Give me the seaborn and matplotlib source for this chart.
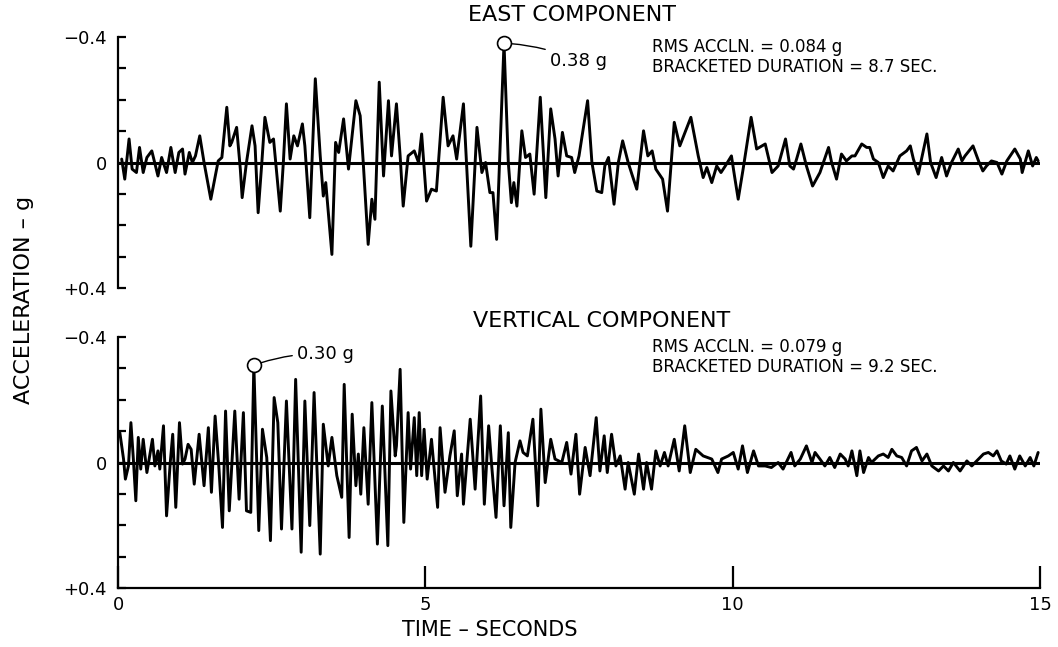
import numpy as np
import pandas as pd
import matplotlib
matplotlib.use("Agg")
import matplotlib.pyplot as plt
import seaborn as sns
from matplotlib.ticker import FixedLocator

# ---------------- data (time in s, acceleration in g; negative plotted upward) ----------------
east_t = [0.06, 0.11, 0.18, 0.23, 0.30, 0.35, 0.41, 0.47, 0.55, 0.65, 0.71, 0.79, 0.86, 0.93, 0.99,
          1.05, 1.09, 1.16, 1.21, 1.26, 1.33, 1.40, 1.51, 1.63, 1.69, 1.77, 1.82, 1.85, 1.93, 1.99,
          2.02, 2.09, 2.18, 2.23, 2.28, 2.34, 2.39, 2.47, 2.53, 2.64, 2.69, 2.74, 2.80, 2.86, 2.92,
          3.00, 3.04, 3.12, 3.21, 3.29, 3.34, 3.38, 3.48, 3.54, 3.59, 3.67,
          3.75, 3.87, 3.94, 3.99, 4.07, 4.13, 4.18, 4.25, 4.32, 4.40, 4.45, 4.53, 4.59, 4.64, 4.72,
          4.82, 4.89, 4.94, 5.02, 5.10, 5.18, 5.29, 5.37, 5.45, 5.51, 5.62, 5.67, 5.74, 5.84, 5.92,
          5.98, 6.05, 6.10, 6.16, 6.28, 6.35, 6.40, 6.44, 6.49, 6.57, 6.63, 6.70, 6.77, 6.87, 6.96,
          7.04, 7.11, 7.16, 7.23, 7.30, 7.38, 7.43, 7.50,
          7.64, 7.71, 7.79, 7.87, 7.92, 7.98, 8.07, 8.14, 8.21, 8.30, 8.36, 8.44, 8.55, 8.62, 8.69,
          8.75, 8.86, 8.94, 9.05, 9.14, 9.32, 9.44, 9.52, 9.58, 9.66, 9.74, 9.81, 9.88, 9.98, 10.03,
          10.09, 10.17, 10.30, 10.39, 10.53, 10.64, 10.74, 10.86, 10.93, 10.99, 11.04, 11.11, 11.20, 11.30,
          11.42, 11.56, 11.61, 11.69, 11.77, 11.85, 11.94, 11.99, 12.10, 12.18, 12.23, 12.29, 12.37, 12.45,
          12.53, 12.61, 12.72, 12.83, 12.89, 12.94, 13.02, 13.16, 13.22, 13.31, 13.40, 13.48, 13.56, 13.67,
          13.73, 13.78, 13.91, 14.00, 14.07, 14.13, 14.21, 14.30, 14.38, 14.46, 14.59, 14.68, 14.71, 14.81,
          14.88, 14.94, 14.97]
east_a = [-0.011, 0.053, -0.075, 0.021, 0.032, -0.048, 0.032, -0.016, -0.037, 0.043, -0.016, 0.032, -0.048, 0.032, -0.032,
          -0.043, 0.037, -0.032, 0.0, -0.021, -0.085, 0.0, 0.117, -0.005, -0.016, -0.176, -0.053, -0.064, -0.112, 0.021,
          0.112, 0.0, -0.117, -0.053, 0.160, 0.0, -0.144, -0.064, -0.075, 0.155, 0.0, -0.187, -0.011, -0.085, -0.053,
          -0.123, -0.053, 0.176, -0.267, -0.021, 0.107, 0.064, 0.293, -0.064, -0.032, -0.139,
          0.021, -0.197, -0.149, 0.0, 0.261, 0.117, 0.181, -0.256, 0.043, -0.197, -0.021, -0.187, -0.021, 0.139, -0.021,
          -0.037, 0.0, -0.091, 0.123, 0.085, 0.091, -0.208, -0.053, -0.085, -0.011, -0.187, 0.0, 0.267, -0.112, 0.032,
          0.0, 0.096, 0.096, 0.245, -0.380, 0.0, 0.128, 0.064, 0.139, -0.101, -0.016, -0.027, 0.101, -0.208, 0.112,
          -0.171, -0.075, 0.043, -0.096, -0.021, -0.016, 0.032, -0.021,
          -0.197, 0.0, 0.091, 0.096, 0.011, -0.016, 0.133, 0.0, -0.069, 0.0, 0.037, 0.085, -0.101, -0.021, -0.037,
          0.021, 0.053, 0.155, -0.128, -0.053, -0.144, -0.021, 0.048, 0.016, 0.064, 0.011, 0.032, 0.011, -0.021, 0.043,
          0.117, 0.021, -0.144, -0.043, -0.059, 0.032, 0.011, -0.075, 0.011, 0.021, -0.011, -0.059, 0.011, 0.075,
          0.032, -0.048, 0.0, 0.053, -0.027, -0.005, -0.021, -0.021, -0.059, -0.048, -0.048, -0.011, 0.0, 0.048,
          0.011, 0.027, -0.021, -0.037, -0.053, -0.011, 0.037, -0.091, 0.0, 0.048, -0.016, 0.043, 0.0, -0.043,
          -0.005, -0.021, -0.053, -0.005, 0.027, 0.011, -0.005, 0.0, 0.037, -0.005, -0.043, -0.011, 0.032, -0.037,
          0.011, -0.016, -0.005]

vert_t = [0.03, 0.09, 0.12, 0.17, 0.21, 0.25, 0.29, 0.33, 0.37, 0.41, 0.47, 0.56, 0.60, 0.65, 0.68,
          0.74, 0.79, 0.85, 0.89, 0.94, 1.00, 1.05, 1.09, 1.14, 1.19, 1.24, 1.32, 1.40, 1.47, 1.52,
          1.58, 1.64, 1.70, 1.75, 1.81, 1.90, 1.97, 2.04, 2.09, 2.16, 2.21, 2.29, 2.35, 2.42, 2.48,
          2.54, 2.60, 2.66, 2.74, 2.83, 2.89, 2.98, 3.04, 3.12, 3.19, 3.29, 3.34, 3.42, 3.48, 3.56,
          3.64, 3.68,
          3.76, 3.81, 3.87, 3.91, 3.95, 4.00, 4.07, 4.13, 4.22, 4.30, 4.39, 4.44, 4.51, 4.53, 4.59,
          4.65, 4.72, 4.76, 4.82, 4.86, 4.90, 4.94, 4.98, 5.03, 5.10, 5.20, 5.24, 5.32, 5.40, 5.47,
          5.52, 5.59, 5.62, 5.73, 5.81, 5.90, 5.96, 6.03, 6.08, 6.15, 6.22, 6.28, 6.35, 6.39, 6.46,
          6.54, 6.59, 6.66, 6.75, 6.83, 6.88, 6.95, 7.04, 7.11, 7.22, 7.30, 7.37, 7.45, 7.51,
          7.60, 7.68, 7.78, 7.84, 7.91, 7.96, 8.03, 8.10, 8.17, 8.25, 8.30, 8.40, 8.47, 8.55, 8.60,
          8.68, 8.75, 8.82, 8.89, 8.95, 9.05, 9.13, 9.22, 9.31, 9.40, 9.52, 9.66, 9.76, 9.82, 9.93,
          10.01, 10.09, 10.16, 10.24, 10.34, 10.42, 10.53, 10.63, 10.74, 10.82, 10.95, 11.01, 11.10, 11.20, 11.29,
          11.34, 11.42, 11.50, 11.58, 11.66, 11.75, 11.83, 11.88, 11.94, 12.02, 12.07, 12.13, 12.21, 12.26, 12.37,
          12.45, 12.53, 12.59, 12.67, 12.75, 12.83, 12.91, 12.99, 13.08, 13.16, 13.24, 13.35, 13.43, 13.51, 13.59,
          13.70, 13.81, 13.89, 14.00, 14.08, 14.16, 14.24, 14.30, 14.37, 14.45, 14.51, 14.59, 14.67, 14.76, 14.84,
          14.90, 14.97]
vert_a = [-0.095, -0.011, 0.053, 0.011, -0.127, -0.011, 0.122, -0.080, 0.021, -0.074, 0.032, -0.074, 0.011, -0.037, 0.021,
          -0.117, 0.170, 0.0, -0.090, 0.143, -0.127, 0.005, -0.011, -0.058, -0.042, 0.069, -0.090, 0.074, -0.111, 0.095,
          -0.148, 0.011, 0.207, -0.164, 0.154, -0.164, 0.117, -0.159, 0.154, 0.159, -0.310, 0.217, -0.106, -0.016, 0.249,
          -0.207, -0.127, 0.212, -0.196, 0.212, -0.265, 0.286, -0.196, 0.201, -0.223, 0.292, -0.122, 0.011, -0.080, 0.042,
          0.111, -0.249,
          0.239, -0.154, 0.074, -0.027, 0.101, -0.111, 0.133, -0.191, 0.260, -0.180, 0.265, -0.228, -0.021, -0.053, -0.297,
          0.191, -0.159, 0.021, -0.143, 0.042, -0.159, 0.042, -0.106, 0.053, -0.074, 0.143, -0.111, 0.095, -0.021, -0.101,
          0.106, -0.027, 0.133, -0.138, 0.085, -0.212, 0.133, -0.117, 0.011, 0.175, -0.117, 0.138, -0.095, 0.207, 0.0,
          -0.069, -0.032, -0.021, -0.138, 0.138, -0.170, 0.064, -0.074, -0.011, 0.0, -0.064, 0.037, -0.090, 0.101,
          -0.048, 0.042, -0.143, 0.027, -0.085, 0.032, -0.090, 0.011, -0.021, 0.085, 0.0, 0.101, -0.027, 0.085, 0.0,
          0.085, -0.037, 0.011, -0.032, 0.011, -0.074, 0.027, -0.117, 0.032, -0.042, -0.021, -0.011, 0.032, -0.011, -0.021,
          -0.032, 0.021, -0.053, 0.032, -0.037, 0.011, 0.011, 0.016, 0.0, 0.021, -0.032, 0.011, -0.011, -0.053, 0.0,
          -0.032, -0.011, 0.011, -0.016, 0.016, -0.027, -0.011, 0.011, -0.037, 0.042, -0.037, 0.032, -0.016, 0.0, -0.021,
          -0.027, -0.016, -0.042, -0.021, -0.016, 0.011, -0.037, -0.048, -0.005, -0.027, 0.011, 0.027, 0.011, 0.027, 0.0,
          0.027, -0.005, 0.011, -0.011, -0.027, -0.032, -0.021, -0.037, -0.005, 0.005, -0.021, 0.021, -0.021, 0.011, -0.016,
          0.011, -0.032]

titles = ["EAST COMPONENT", "VERTICAL COMPONENT"]
rms_text = ["RMS ACCLN. = 0.084 g", "RMS ACCLN. = 0.079 g"]
dur_text = ["BRACKETED DURATION = 8.7 SEC.", "BRACKETED DURATION = 9.2 SEC."]
peak_text = ["0.38 g", "0.30 g"]
y_major = [-0.4, 0.0, 0.4]
y_major_labels = ["\u22120.4", "0", "+0.4"]
y_minor = [-0.3, -0.2, -0.1, 0.1, 0.2, 0.3]
x_ticks = [0, 5, 10, 15]
x_tick_labels = ["0", "5", "10", "15"]

# ---------------- style ----------------
sns.set_theme(style="white")
plt.rcParams["font.family"] = ["DejaVu Sans"]
plt.rcParams["text.color"] = "black"
plt.rcParams["axes.labelcolor"] = "black"
plt.rcParams["xtick.color"] = "black"
plt.rcParams["ytick.color"] = "black"

W, H = 1058, 647
fig = plt.figure(figsize=(W / 100, H / 100), dpi=100)
fig.patch.set_facecolor("white")

def frac_box(x0, y_top, x1, y_bot):
    return [x0 / W, 1 - y_bot / H, (x1 - x0) / W, (y_bot - y_top) / H]

ax1 = fig.add_axes(frac_box(118, 37, 1040, 288))
ax2 = fig.add_axes(frac_box(118, 337, 1040, 588))

series = [(ax1, east_t, east_a), (ax2, vert_t, vert_a)]
offsets = [(33, -13), (31, 8)]
for i, (ax, t, a) in enumerate(series):
    df = pd.DataFrame({"t": t, "a": a})
    ax.set_facecolor("white")
    ax.axhline(0, color="black", lw=2.2, zorder=1)
    sns.lineplot(data=df, x="t", y="a", ax=ax, color="black", lw=2.1,
                 estimator=None, sort=False, zorder=2,
                 solid_joinstyle="round", solid_capstyle="round")
    ax.set_xlim(0, 15)
    ax.set_ylim(0.4, -0.4)
    ax.set_xlabel("")
    ax.set_ylabel("")
    for s in ["top", "right"]:
        ax.spines[s].set_visible(False)
    ax.spines["left"].set_color("black")
    ax.spines["left"].set_linewidth(1.6)
    ax.yaxis.set_major_locator(FixedLocator(y_major))
    ax.set_yticklabels(y_major_labels, fontsize=13)
    ax.yaxis.set_minor_locator(FixedLocator(y_minor))
    ax.tick_params(axis="y", which="both", direction="in", length=6, width=1.6, pad=8, left=True)

    # peak marker and label
    k = int(np.argmin(a))
    ax.plot([t[k]], [a[k]], marker="o", ms=10, mfc="white", mec="black", mew=1.2,
            zorder=4, clip_on=False)
    ax.annotate(peak_text[i], xy=(t[k], a[k]), xytext=offsets[i], textcoords="offset points",
                fontsize=13, va="center", ha="left",
                arrowprops=dict(arrowstyle="-", lw=1.0, color="black", shrinkA=1, shrinkB=5,
                                connectionstyle="arc3,rad=0.1"))
    ax.text(8.69, -0.368, rms_text[i], fontsize=12, va="center", ha="left")
    ax.text(8.69, -0.304, dur_text[i], fontsize=12, va="center", ha="left")

# top panel: no x axis
ax1.spines["bottom"].set_visible(False)
ax1.set_xticks([])

# bottom panel x axis
ax2.spines["bottom"].set_color("black")
ax2.spines["bottom"].set_linewidth(1.6)
ax2.set_xticks(x_ticks)
ax2.set_xticklabels(x_tick_labels, fontsize=13)
ax2.tick_params(axis="x", direction="in", length=16, width=1.6, pad=6, bottom=True)

fig.text(572 / W, 1 - 15 / H, titles[0], ha="center", va="center", fontsize=16)
fig.text(602 / W, 1 - 321 / H, titles[1], ha="center", va="center", fontsize=16)
fig.text(490 / W, 1 - 630 / H, "TIME \u2013 SECONDS", ha="center", va="center", fontsize=15)
fig.text(24 / W, 1 - 300 / H, "ACCELERATION \u2013 g", ha="center", va="center",
         rotation=90, fontsize=16)

fig.savefig("out.png", dpi=100, facecolor="white")
